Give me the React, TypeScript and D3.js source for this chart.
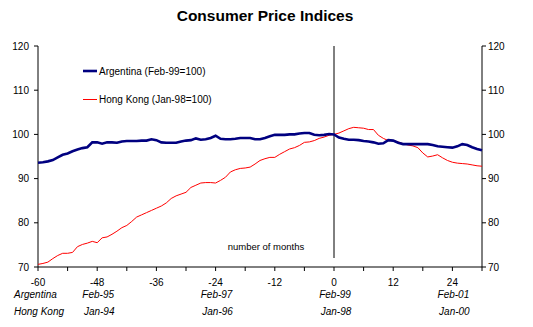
import React from "react";
import * as d3 from "d3";

const months: number[] = d3.range(-60, 31);

const argentina: number[] = [
  93.6, 93.7, 93.9, 94.2, 94.8, 95.4, 95.7, 96.2, 96.6, 96.9,
  97.1, 98.2, 98.2, 97.9, 98.2, 98.2, 98.1, 98.4, 98.5, 98.5,
  98.5, 98.6, 98.6, 98.9, 98.7, 98.2, 98.1, 98.1, 98.1, 98.4,
  98.6, 98.7, 99.1, 98.8, 98.9, 99.2, 99.7, 99.0, 98.9, 98.9,
  99.0, 99.2, 99.2, 99.2, 98.9, 98.9, 99.2, 99.6, 99.9, 99.9,
  99.9, 100.0, 100.0, 100.2, 100.3, 100.3, 99.9, 99.8, 99.9, 100.1,
  100.0, 99.3, 99.0, 98.8, 98.8, 98.7, 98.5, 98.4, 98.2, 97.9,
  98.0, 98.7, 98.6, 98.1, 97.8, 97.8, 97.8, 97.8, 97.8, 97.8,
  97.6, 97.3, 97.2, 97.1, 97.0, 97.3, 97.8, 97.6, 97.1, 96.7,
  96.4,
];

const hongKong: number[] = [
  70.6, 70.8, 71.1, 71.9, 72.6, 73.1, 73.1, 73.3, 74.6, 75.1,
  75.4, 75.8, 75.5, 76.6, 76.8, 77.4, 78.1, 78.9, 79.4, 80.3,
  81.3, 81.8, 82.3, 82.8, 83.3, 83.8, 84.5, 85.5, 86.1, 86.5,
  86.9, 88.0, 88.5, 89.0, 89.1, 89.1, 89.0, 89.6, 90.3, 91.5,
  92.0, 92.3, 92.4, 92.6, 93.3, 94.1, 94.5, 94.8, 94.8, 95.5,
  96.1, 96.7, 97.0, 97.5, 98.2, 98.3, 98.6, 99.1, 99.4, 99.8,
  100.0, 100.3, 100.8, 101.3, 101.6, 101.5, 101.4, 101.1, 101.1, 99.8,
  99.1, 98.6, 98.6, 98.3, 97.9, 97.6, 97.4, 97.0, 95.8, 94.9,
  95.1, 95.4, 94.7, 94.1, 93.7, 93.5, 93.4, 93.3, 93.1, 92.9,
  92.8,
];

const yTicks: number[] = [70, 80, 90, 100, 110, 120];
const xMinorTicks: number[] = d3.range(-60, 31, 6);
const xLabelTicks: number[] = [-60, -48, -36, -24, -12, 0, 12, 24];
const argDateTicks: number[] = [-48, -24, 0, 24];
const argDateLabels: string[] = ["Feb-95", "Feb-97", "Feb-99", "Feb-01"];
const hkDateLabels: string[] = ["Jan-94", "Jan-96", "Jan-98", "Jan-00"];

const title = "Consumer Price Indices";
const seriesNames: string[] = ["Argentina (Feb-99=100)", "Hong Kong (Jan-98=100)"];
const seriesColors: string[] = ["#000080", "#FF0000"];

export default function App() {
  const W = 533;
  const H = 327;
  const left = 38;
  const right = 482;
  const top = 46;
  const bottom = 267;
  const x = d3.scaleLinear().domain([-60, 30]).range([left, right]);
  const y = d3.scaleLinear().domain([70, 120]).range([bottom, top]);
  const line = d3
    .line<number>()
    .x((_, i) => x(months[i]))
    .y((d) => y(d));
  const font = "'Liberation Sans', Arial, sans-serif";

  return (
    <svg
      width={W}
      height={H}
      style={{ position: "absolute", left: 0, top: 0, background: "#fff" }}
      fontFamily={font}
    >
      <rect x={0} y={0} width={W} height={H} fill="#fff" />
      <text x={265} y={21} textAnchor="middle" fontSize={15.5} fontWeight="bold" fill="#000">
        {title}
      </text>

      {/* axes */}
      <line x1={left} x2={left} y1={top} y2={bottom} stroke="#000" />
      <line x1={right} x2={right} y1={top} y2={bottom} stroke="#000" />
      <line x1={left} x2={right} y1={bottom} y2={bottom} stroke="#000" />
      {yTicks.map((t) => (
        <g key={"yt" + t}>
          <line x1={left - 4} x2={left} y1={y(t)} y2={y(t)} stroke="#000" />
          <line x1={right} x2={right + 4} y1={y(t)} y2={y(t)} stroke="#000" />
          <text x={left - 9} y={y(t) + 3.5} textAnchor="end" fontSize={10}>
            {t}
          </text>
          <text x={right + 6} y={y(t) + 3.5} textAnchor="start" fontSize={10}>
            {t}
          </text>
        </g>
      ))}
      {xMinorTicks.map((t) => (
        <line key={"xt" + t} x1={x(t)} x2={x(t)} y1={bottom} y2={bottom + 4} stroke="#000" />
      ))}
      {xLabelTicks.map((t) => (
        <text key={"xl" + t} x={x(t)} y={286} textAnchor="middle" fontSize={10}>
          {t}
        </text>
      ))}

      {/* date rows */}
      <text x={14} y={298} fontSize={10} fontStyle="italic">Argentina</text>
      <text x={14} y={315} fontSize={10} fontStyle="italic">Hong Kong</text>
      {argDateTicks.map((t, i) => (
        <g key={"d" + t}>
          <text x={x(t) + 1} y={298} textAnchor="middle" fontSize={10} fontStyle="italic">
            {argDateLabels[i]}
          </text>
          <text x={x(t) + 2} y={315} textAnchor="middle" fontSize={10} fontStyle="italic">
            {hkDateLabels[i]}
          </text>
        </g>
      ))}

      {/* zero line */}
      <line x1={x(0)} x2={x(0)} y1={top} y2={258} stroke="#000" />
      <text x={266} y={250} textAnchor="middle" fontSize={9.5}>
        number of months
      </text>

      {/* series */}
      <path d={line(hongKong) || ""} fill="none" stroke={seriesColors[1]} strokeWidth={1} />
      <path d={line(argentina) || ""} fill="none" stroke={seriesColors[0]} strokeWidth={2.6} />

      {/* legend */}
      <line x1={83} x2={97} y1={71} y2={71} stroke={seriesColors[0]} strokeWidth={2.6} />
      <text x={99} y={75} fontSize={10}>{seriesNames[0]}</text>
      <line x1={83} x2={97} y1={99.5} y2={99.5} stroke={seriesColors[1]} strokeWidth={1} />
      <text x={99} y={103} fontSize={10}>{seriesNames[1]}</text>
    </svg>
  );
}
